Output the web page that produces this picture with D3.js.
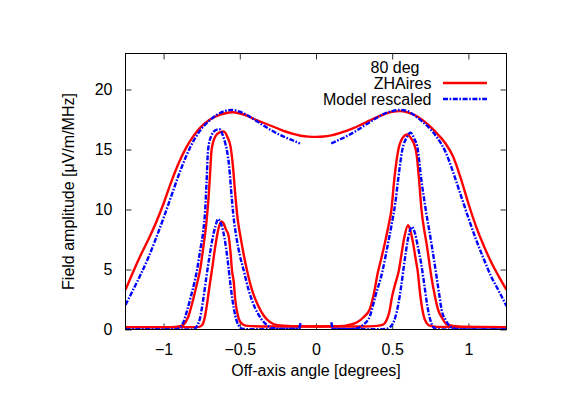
<!DOCTYPE html>
<html>
<head>
<meta charset="utf-8">
<script src="https://cdn.jsdelivr.net/npm/d3@7"></script>
<style>
  html, body { margin: 0; padding: 0; background: #fff; }
  svg { display: block; }
  text { font-family: "Liberation Sans", Arial, Helvetica, sans-serif; font-size: 16px; fill: #000; }
</style>
</head>
<body>
<svg id="chart" width="581" height="411"></svg>
<script>
// ---- data (x = off-axis angle [deg], y = field amplitude [uV/m/MHz]) ----
const xTicks = [-1, -0.5, 0, 0.5, 1];
const yTicks = [0, 5, 10, 15, 20];
const keyTitle = "80 deg";
const seriesNames = ["ZHAires", "Model rescaled"];

const zhairesBroad = [
  [-1.25,3.3],[-1.2,4.8],[-1.15,6.2],[-1.1,7.5],[-1.05,8.9],[-1.0,10.5],[-0.95,12.3],[-0.9,13.9],
  [-0.85,15.2],[-0.8,16.2],[-0.75,16.95],[-0.7,17.45],[-0.65,17.8],[-0.6,18.0],[-0.55,18.1],
  [-0.5,18.0],[-0.45,17.8],[-0.4,17.5],[-0.35,17.25],[-0.3,17.0],[-0.25,16.75],[-0.2,16.5],
  [-0.15,16.3],[-0.1,16.15],[-0.05,16.07],[0,16.05],[0.05,16.08],[0.1,16.18],[0.15,16.35],
  [0.2,16.55],[0.25,16.8],[0.3,17.1],[0.35,17.4],[0.4,17.7],[0.45,17.95],[0.5,18.15],[0.55,18.2],
  [0.6,18.1],[0.65,17.85],[0.7,17.45],[0.75,16.9],[0.8,16.25],[0.85,15.5],[0.9,14.4],[0.95,12.6],
  [1.0,10.5],[1.05,8.6],[1.1,7.0],[1.15,5.6],[1.2,4.4],[1.25,3.3]
];
const modelBroad = [
  [-1.25,2.05],[-1.2,3.3],[-1.15,4.6],[-1.1,6.0],[-1.05,7.6],[-1.0,9.3],[-0.95,11.1],[-0.9,12.9],
  [-0.85,14.5],[-0.8,15.8],[-0.75,16.75],[-0.7,17.4],[-0.65,17.9],[-0.6,18.2],[-0.55,18.3],
  [-0.5,18.15],[-0.45,17.85],[-0.4,17.45],[-0.35,17.05],[-0.3,16.65],[-0.25,16.3],[-0.2,16.0],
  [-0.15,15.75],[-0.105,15.5],[0,null],
  [0.1,15.5],[0.15,15.8],[0.2,16.1],[0.25,16.45],[0.3,16.85],[0.35,17.25],[0.4,17.65],[0.45,18.0],
  [0.5,18.2],[0.55,18.3],[0.6,18.2],[0.65,17.8],[0.7,17.3],[0.75,16.7],[0.8,15.9],[0.85,14.8],
  [0.9,13.1],[0.95,11.2],[1.0,9.3],[1.05,7.5],[1.1,5.9],[1.15,4.4],[1.2,3.2],[1.25,1.95]
];
const zhairesMid = [
  [-1.25,0.2],[-0.95,0.2],[-0.9,0.25],[-0.87,0.4],[-0.84,1.0],[-0.81,2.3],[-0.785,3.6],[-0.76,5.0],
  [-0.74,6.8],[-0.72,8.8],[-0.705,11.0],[-0.695,13.0],[-0.685,15.0],[-0.66,16.1],[-0.63,16.45],
  [-0.605,16.5],[-0.58,16.0],[-0.56,15.2],[-0.545,13.6],[-0.53,11.3],[-0.515,9.3],[-0.495,7.7],
  [-0.475,6.3],[-0.454,5.0],[-0.42,3.3],[-0.38,2.0],[-0.34,1.1],[-0.3,0.6],[-0.25,0.35],
  [-0.15,0.28],[0,0.25],[0.1,0.27],[0.18,0.3],[0.22,0.4],[0.27,0.6],[0.31,1.0],[0.353,1.7],
  [0.38,3.0],[0.405,4.7],[0.43,6.0],[0.452,7.2],[0.475,8.6],[0.495,10.0],[0.512,12.3],[0.539,14.9],
  [0.565,15.9],[0.598,16.25],[0.625,15.9],[0.645,15.4],[0.66,14.6],[0.676,12.5],[0.692,10.0],
  [0.71,8.3],[0.725,7.2],[0.757,4.4],[0.78,2.8],[0.8,1.7],[0.83,0.9],[0.855,0.45],[0.9,0.3],
  [1.0,0.22],[1.25,0.2]
];
const modelMid = [
  [-1.25,0.0],[-0.95,0.0],[-0.91,0.05],[-0.89,0.2],[-0.87,0.6],[-0.85,1.4],[-0.82,2.8],[-0.8,3.8],
  [-0.78,5.0],[-0.76,6.6],[-0.74,8.2],[-0.727,10.0],[-0.718,12.3],[-0.708,15.0],[-0.685,16.2],
  [-0.66,16.6],[-0.635,16.7],[-0.612,16.2],[-0.597,15.6],[-0.584,14.9],[-0.57,13.6],[-0.557,11.6],
  [-0.543,9.6],[-0.525,7.9],[-0.5,6.2],[-0.476,5.0],[-0.44,3.2],[-0.4,1.8],[-0.36,0.9],
  [-0.32,0.35],[-0.28,0.1],[-0.2,0.05],[-0.115,0.05],[-0.1,0.6],[0,null],
  [0.1,0.6],[0.115,0.05],[0.2,0.02],[0.27,0.1],[0.31,0.4],[0.353,1.1],[0.39,2.8],[0.435,4.8],
  [0.473,7.2],[0.5,9.0],[0.52,10.5],[0.539,12.5],[0.567,15.0],[0.595,16.0],[0.62,16.4],[0.645,15.9],
  [0.668,15.0],[0.69,12.6],[0.72,10.0],[0.757,7.2],[0.79,4.5],[0.81,2.8],[0.823,1.7],[0.85,0.8],
  [0.877,0.3],[0.92,0.05],[1.0,0.0],[1.25,0.0]
];
const zhairesNarrow = [
  [-1.25,0.2],[-0.78,0.2],[-0.76,0.25],[-0.745,0.4],[-0.73,1.0],[-0.72,1.7],[-0.7,3.5],[-0.68,5.2],
  [-0.66,7.0],[-0.64,8.4],[-0.62,9.0],[-0.605,8.8],[-0.59,8.3],[-0.575,7.9],[-0.56,6.3],[-0.552,5.0],
  [-0.54,4.0],[-0.53,2.5],[-0.515,1.3],[-0.5,0.7],[-0.476,0.4],[-0.45,0.3],[-0.3,0.25],[0,0.25],
  [0.3,0.25],[0.4,0.3],[0.44,0.4],[0.46,0.7],[0.48,1.4],[0.5,2.8],[0.52,3.8],[0.545,5.0],[0.56,6.2],
  [0.58,7.7],[0.604,8.7],[0.62,8.2],[0.637,7.2],[0.655,5.8],[0.67,4.6],[0.68,3.3],[0.69,2.3],
  [0.705,1.2],[0.725,0.55],[0.75,0.3],[0.8,0.22],[1.25,0.2]
];
const modelNarrow = [
  [-1.25,0.0],[-0.82,0.0],[-0.8,0.05],[-0.78,0.3],[-0.76,1.0],[-0.74,2.5],[-0.72,4.3],[-0.7,6.0],
  [-0.68,7.5],[-0.66,8.6],[-0.643,9.2],[-0.62,8.7],[-0.6,7.6],[-0.58,5.8],[-0.56,3.6],[-0.54,1.8],
  [-0.52,0.7],[-0.5,0.2],[-0.48,0.05],[-0.4,0.02],[-0.1,0.05],[0,null],
  [0.1,0.05],[0.4,0.02],[0.46,0.05],[0.48,0.15],[0.5,0.4],[0.52,1.0],[0.54,2.1],[0.56,3.7],
  [0.58,5.6],[0.6,7.3],[0.615,8.2],[0.63,8.55],[0.65,8.0],[0.67,6.8],[0.69,5.5],[0.71,3.8],
  [0.73,2.0],[0.75,0.8],[0.77,0.2],[0.79,0.05],[0.85,0.0],[1.25,0.0]
];

// ---- layout ----
const svg = d3.select("#chart");
const pLeft = 125.5, pRight = 506.5, pTop = 53.5, pBottom = 329.5;
const x = d3.scaleLinear().domain([-1.25, 1.25]).range([pLeft, pRight]);
const y = d3.scaleLinear().domain([0, 23]).range([pBottom, pTop]);

const RED = "#ff0000", BLUE = "#0000ff";
const DASH = "5,1.6,1.6,1.6";
const styles = [
  { data: zhairesBroad, color: RED, dash: null },
  { data: zhairesMid, color: RED, dash: null },
  { data: zhairesNarrow, color: RED, dash: null },
  { data: modelBroad, color: BLUE, dash: DASH },
  { data: modelMid, color: BLUE, dash: DASH },
  { data: modelNarrow, color: BLUE, dash: DASH }
];

svg.append("defs").append("clipPath").attr("id", "clip")
  .append("rect").attr("x", pLeft).attr("y", pTop).attr("width", pRight - pLeft).attr("height", pBottom - pTop);

// ticks (inward, mirrored)
const tickLen = 6;
const axB = d3.axisBottom(x).tickValues(xTicks).tickSize(-tickLen).tickFormat(d => d3.format("")(d)).tickPadding(14);
const axT = d3.axisTop(x).tickValues(xTicks).tickSize(-tickLen).tickFormat("");
const axL = d3.axisLeft(y).tickValues(yTicks).tickSize(-tickLen).tickPadding(13);
const axR = d3.axisRight(y).tickValues(yTicks).tickSize(-tickLen).tickFormat("");

function styleAxis(g) {
  g.select(".domain").remove();
  g.selectAll(".tick line").attr("stroke", "#333").attr("stroke-width", 1);
  g.selectAll(".tick text").attr("font-size", 16).attr("font-family", "Liberation Sans, Arial, sans-serif").attr("fill", "#000");
}
svg.append("g").attr("transform", `translate(0,${pBottom})`).call(axB).call(styleAxis);
svg.append("g").attr("transform", `translate(0,${pTop})`).call(axT).call(styleAxis);
svg.append("g").attr("transform", `translate(${pLeft},0)`).call(axL).call(styleAxis);
svg.append("g").attr("transform", `translate(${pRight},0)`).call(axR).call(styleAxis);

// curves
const line = d3.line()
  .defined(d => d[1] !== null)
  .x(d => x(d[0])).y(d => y(d[1]))
  .curve(d3.curveMonotoneX);

const plot = svg.append("g").attr("clip-path", "url(#clip)");
styles.forEach(s => {
  plot.append("path")
    .datum(s.data)
    .attr("d", line)
    .attr("fill", "none")
    .attr("stroke", s.color)
    .attr("stroke-width", 2.4)
    .attr("stroke-linejoin", "round")
    .attr("stroke-dasharray", s.dash);
});

// frame
svg.append("rect").attr("x", pLeft).attr("y", pTop).attr("width", pRight - pLeft).attr("height", pBottom - pTop)
  .attr("fill", "none").attr("stroke", "#000").attr("stroke-width", 1);

// axis titles
svg.append("text").attr("x", (pLeft + pRight) / 2).attr("y", 376).attr("text-anchor", "middle")
  .text("Off-axis angle [degrees]");
svg.append("text").attr("transform", `translate(74,${(pTop + pBottom) / 2}) rotate(-90)`).attr("text-anchor", "middle")
  .text("Field amplitude [\u03BCV/m/MHz]");

// legend
svg.append("text").attr("x", 395).attr("y", 73).attr("text-anchor", "middle").text(keyTitle);
const keyRows = [
  { name: seriesNames[0], color: RED, dash: null, yy: 89 },
  { name: seriesNames[1], color: BLUE, dash: DASH, yy: 105 }
];
keyRows.forEach(r => {
  svg.append("text").attr("x", 431.5).attr("y", r.yy).attr("text-anchor", "end").text(r.name);
  svg.append("line").attr("x1", 443).attr("x2", 487).attr("y1", r.yy - 6).attr("y2", r.yy - 6)
    .attr("stroke", r.color).attr("stroke-width", 2.4).attr("stroke-dasharray", r.dash);
});
</script>
</body>
</html>
